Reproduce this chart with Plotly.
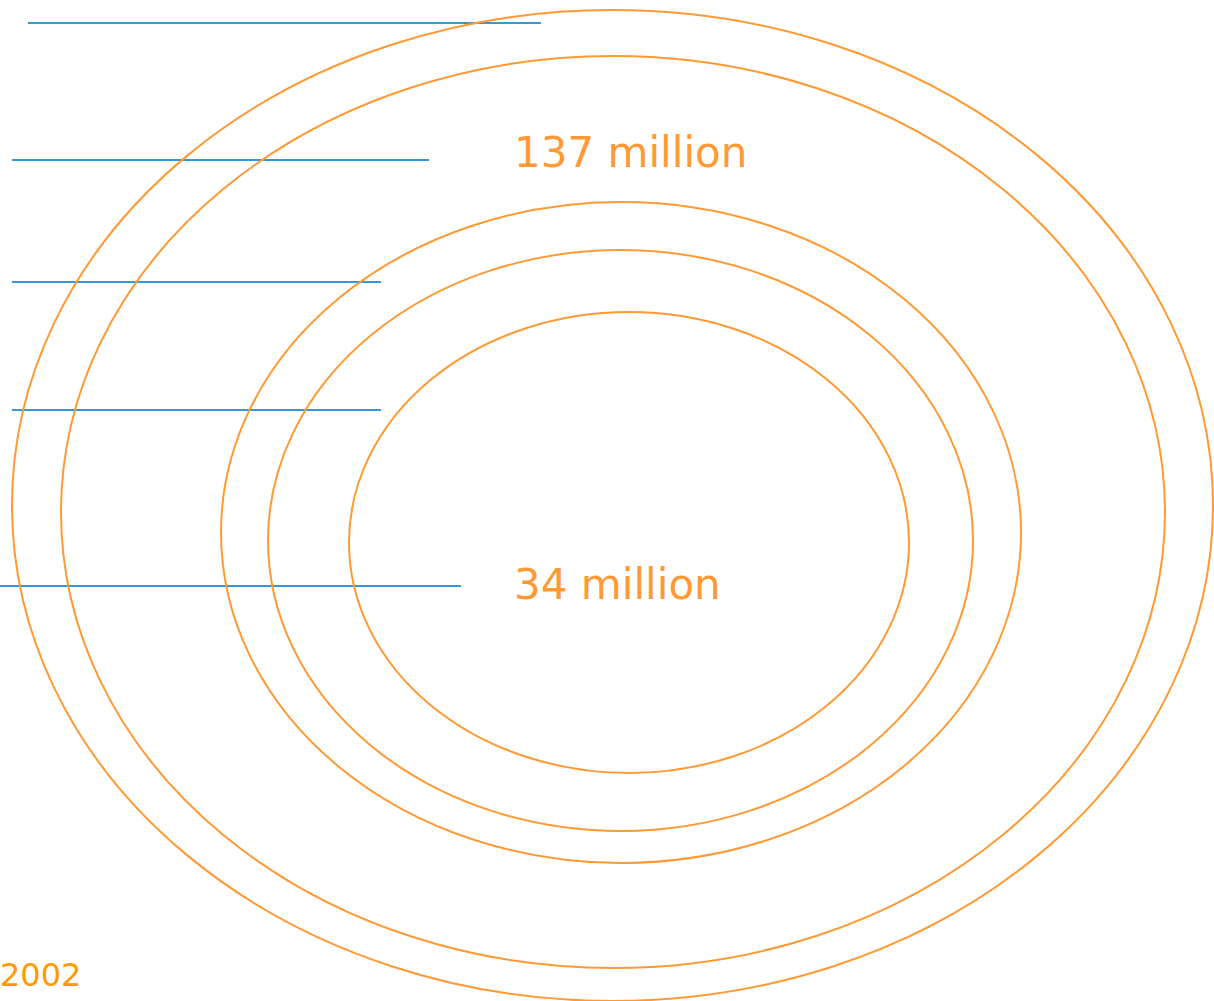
import plotly.graph_objects as go

# Ellipses (pixel-space data: centre and radii)
ell_cx = [612.5, 613, 621, 620.5, 629]
ell_cy = [505.5, 512, 532.5, 540.5, 542.5]
ell_rx = [600.5, 552, 400, 352.5, 280]
ell_ry = [495.5, 456, 330.5, 290.5, 230.5]

# Blue horizontal lines
line_y = [23, 160, 282, 410, 586]
line_x0 = [28, 12, 12, 12, 0]
line_x1 = [541, 429, 381, 381, 461]

# Labels
label_text = ["137 million", "34 million"]
label_x = [512, 512]
label_y = [152, 584]
year_text = "2002"

W, H = 1214, 1001
ORANGE = "#FF9933"
BLUE = "#3399DD"

fig = go.Figure()

for y, a, b in zip(line_y, line_x0, line_x1):
    fig.add_trace(go.Scatter(x=[a, b], y=[y, y], mode="lines",
                             line=dict(color=BLUE, width=2),
                             hoverinfo="skip", showlegend=False))

shapes = []
for cx, cy, rx, ry in zip(ell_cx, ell_cy, ell_rx, ell_ry):
    shapes.append(dict(type="circle", xref="x", yref="y",
                       x0=cx - rx, x1=cx + rx, y0=cy - ry, y1=cy + ry,
                       line=dict(color=ORANGE, width=2), fillcolor="rgba(0,0,0,0)",
                       layer="above"))

annotations = []
for t, x, y in zip(label_text, label_x, label_y):
    annotations.append(dict(text=t, x=x, y=y, xref="x", yref="y",
                            xanchor="left", yanchor="middle", showarrow=False,
                            font=dict(family="DejaVu Sans", size=42, color=ORANGE)))
annotations.append(dict(text=year_text, x=0, y=975, xref="x", yref="y",
                        xanchor="left", yanchor="middle", showarrow=False, xshift=-2,
                        font=dict(family="DejaVu Sans", size=32, color="#FF9900")))

fig.update_layout(
    width=W, height=H,
    margin=dict(l=0, r=0, t=0, b=0),
    paper_bgcolor="white", plot_bgcolor="white",
    xaxis=dict(range=[0, W], visible=False, fixedrange=True),
    yaxis=dict(range=[H, 0], visible=False, fixedrange=True),
    shapes=shapes, annotations=annotations,
    showlegend=False,
)

fig.write_html("out.html", config={"displayModeBar": False},
               post_script="document.body.style.margin='0';document.body.style.overflow='hidden';")
